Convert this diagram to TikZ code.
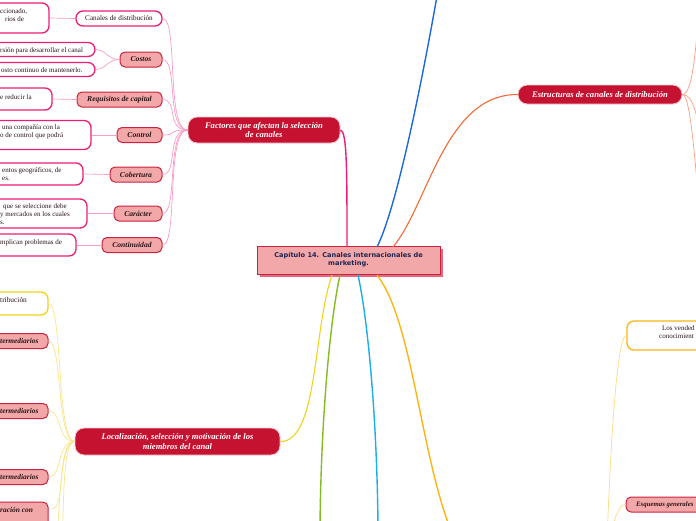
\documentclass[tikz,border=0pt]{standalone}
\usepackage{fontspec}
\setmainfont{Liberation Serif}
\newfontfamily\centralfont{DejaVu Sans}
\definecolor{crimson}{HTML}{C41230}
\definecolor{pinkfill}{HTML}{F2A8A8}
\definecolor{pinkborder}{HTML}{C9213F}
\definecolor{magentab}{HTML}{EE1D74}
\definecolor{pinkmain}{HTML}{EC1C79}
\definecolor{pinklight}{HTML}{F99CC5}
\definecolor{yellowmain}{HTML}{F2D31B}
\definecolor{yellowlight}{HTML}{F8E58A}
\definecolor{ambermain}{HTML}{FDB515}
\definecolor{amberlight}{HTML}{FDD98A}
\definecolor{orangemain}{HTML}{F26A36}
\definecolor{orangelight}{HTML}{F5A07E}
\definecolor{bluemain}{HTML}{1B69DA}
\definecolor{greenmain}{HTML}{85BB21}
\definecolor{cyanmain}{HTML}{1CAEEB}
\definecolor{navytext}{HTML}{1B2452}
\definecolor{shadowpink}{HTML}{E06A7E}
\definecolor{glow}{HTML}{F7C6CE}
\definecolor{darktext}{HTML}{2A1416}
\tikzset{
  mainbox/.style={rectangle, rounded corners=9pt, fill=crimson, draw=glow, line width=0.9pt,
    text=white, font=\fontsize{8.6}{9.4}\selectfont\bfseries\itshape, align=center, inner sep=0pt},
  subbox/.style={rectangle, rounded corners=5pt, fill=pinkfill, draw=pinkborder, line width=1pt,
    text=darktext, font=\fontsize{7.6}{8}\selectfont\bfseries\itshape, inner sep=0pt},
  whitebox/.style={rectangle, rounded corners=7pt, fill=white, line width=1.3pt, inner sep=0pt,
    font=\fontsize{7.2}{8}\selectfont, text=darktext},
  frag/.style={anchor=base west, inner sep=0pt, font=\fontsize{7}{8}\selectfont, text=darktext, align=left},
  fragb/.style={anchor=base west, inner sep=0pt, font=\fontsize{7.4}{8}\selectfont\bfseries\itshape, text=darktext},
  branch/.style={line width=1.4pt},
  twig/.style={line width=0.7pt},
}
\begin{document}
\begin{tikzpicture}[x=1pt,y=-1pt]
\useasboundingbox (0,0) rectangle (696,520);
\clip (0,0) rectangle (696,520);

% ---------- branch anchor coordinates ----------
\coordinate (cpk) at (347,247);
\coordinate (cbl) at (377,247);
\coordinate (cor) at (393,247);
\coordinate (cye) at (332,275);
\coordinate (cgr) at (340,275);
\coordinate (ccy) at (358,275);
\coordinate (cam) at (377,275);
\coordinate (blueend) at (437,-4);
\coordinate (greenend) at (320,526);
\coordinate (cyanend) at (378,526);
\coordinate (amberend) at (450,528);

% ---------- nodes ----------
\fill[shadowpink] (260,249) rectangle (443,277);
\node[rectangle, fill=pinkfill, draw=pinkborder, line width=1pt, minimum width=183pt, minimum height=28pt,
  inner sep=0pt, align=center, text=navytext, font=\centralfont\fontsize{6.6}{8}\selectfont\bfseries]
  (central) at (348.5,260) {Capítulo 14. Canales internacionales de\\marketing.};

\node[mainbox, minimum width=152pt, minimum height=26pt] (fac) at (264,130) {Factores que afectan la selección\\de canales};
\node[mainbox, minimum width=164pt, minimum height=19pt] (est) at (600,94.5) {Estructuras de canales de distribución};
\node[mainbox, minimum width=205pt, minimum height=27pt] (loc) at (177.5,441.5) {Localización, selección y motivación de los\\miembros del canal};

% Factores children
\node[whitebox, draw=magentab, minimum width=86pt, minimum height=15pt] (cdd) at (119,18.5) {Canales de distribución};
\node[subbox, minimum width=42pt, minimum height=15pt] (cos) at (141,59.5) {Costos};
\node[subbox, minimum width=85pt, minimum height=15pt] (req) at (119.5,99.5) {Requisitos de capital};
\node[subbox, minimum width=45pt, minimum height=15pt] (con) at (139.5,135) {Control};
\node[subbox, minimum width=52pt, minimum height=15pt] (cob) at (136,174.5) {Cobertura};
\node[subbox, minimum width=48pt, minimum height=15pt] (car) at (138,213.5) {Carácter};
\node[subbox, minimum width=60pt, minimum height=15pt] (cnt) at (132,245) {Continuidad};

% grandchildren (cut at left edge)
\node[whitebox, draw=magentab, minimum width=110pt, minimum height=30pt] (g1) at (-6,18) {};
\node[whitebox, draw=magentab, minimum width=140pt, minimum height=14pt] (g2) at (25,49.5) {};
\node[whitebox, draw=magentab, minimum width=140pt, minimum height=14pt] (g3) at (25,69.5) {};
\node[whitebox, draw=magentab, minimum width=110pt, minimum height=22pt] (g4) at (-3,99) {};
\node[whitebox, draw=magentab, minimum width=150pt, minimum height=29pt] (g5) at (16,135) {};
\node[whitebox, draw=magentab, minimum width=150pt, minimum height=22pt] (g6) at (8,174) {};
\node[whitebox, draw=magentab, minimum width=150pt, minimum height=29pt] (g7) at (12,213.5) {};
\node[whitebox, draw=magentab, minimum width=150pt, minimum height=22pt] (g8) at (1,245) {};

\node[frag] (t1) at (0,13) {ccionado,};
\node[frag] (t1b) at (5,21) {rios de};
\node[frag] (t2) at (0,52) {rsión para desarrollar el canal};
\node[frag] (t3) at (1,72) {osto continuo de mantenerlo.};
\node[frag] (t4) at (0,99.5) {e reducir la};
\node[frag] (t5) at (2,129.5) {una compañía con la};
\node[frag] (t5b) at (0,137.5) {o de control que podrá};
\node[frag] (t6) at (2,172) {entos geográficos, de};
\node[frag] (t6b) at (2,180.5) {es.};
\node[frag] (t7) at (3,208) {que se seleccione debe};
\node[frag] (t7b) at (0,216) {y mercados en los cuales};
\node[frag] (t7c) at (0,224.5) {s.};
\node[frag] (t8) at (0,244.5) {mplican problemas de};

% Localizacion children
\node[whitebox, draw=yellowmain, minimum width=100pt, minimum height=23pt] (y1) at (-2,303.5) {};
\node[subbox, minimum width=100pt, minimum height=15pt] (y2) at (-2,341) {};
\node[subbox, minimum width=100pt, minimum height=15pt] (y3) at (-2,411) {};
\node[subbox, minimum width=100pt, minimum height=15pt] (y4) at (-2,477) {};
\node[subbox, minimum width=100pt, minimum height=30pt] (y5) at (-2,517) {};
\node[frag, font=\fontsize{7.4}{8}\selectfont] (ty1) at (0,302) {tribución};
\node[fragb] (ty2) at (0,343.5) {termediarios};
\node[fragb] (ty3) at (0,413.5) {termediarios};
\node[fragb] (ty4) at (0,479.5) {termediarios};
\node[fragb] (ty5) at (0,512) {ración con};

% right-bottom amber children
\node[whitebox, draw=ambermain, minimum width=120pt, minimum height=29pt] (a1) at (687,335.5) {};
\node[subbox, minimum width=120pt, minimum height=15pt] (a2) at (686,504.5) {};
\node[frag] (ta1) at (662,330) {Los vended};
\node[frag] (ta1b) at (659,338) {conocimient};
\node[fragb, font=\fontsize{6.8}{8}\selectfont\bfseries\itshape] (ta2) at (636,506.5) {Esquemas generales};

% off-frame coordinates
\coordinate (ambpar) at (606,570);
\coordinate (yoff1) at (57,540);
\coordinate (yoff2) at (62,545);
\coordinate (eoff1) at (700,-10);
\coordinate (eoff2) at (702,140);
\coordinate (eoff3) at (702,230);

% ---------- connectors ----------
\draw[branch, pinkmain] (cpk) .. controls (347,170) and (347,131) .. (fac.east);
\draw[branch, bluemain] (cbl) .. controls (398,205) and (424,70) .. (blueend);
\draw[branch, orangemain, line width=1.1pt] (cor) .. controls (428,205) and (445,94) .. (est.west);
\draw[branch, yellowmain, line width=1.1pt] (cye) .. controls (313,330) and (318,442) .. (loc.east);
\draw[branch, greenmain] (cgr) .. controls (330,320) and (321,420) .. (greenend);
\draw[branch, cyanmain] (ccy) .. controls (368,320) and (377,420) .. (cyanend);
\draw[branch, ambermain] (cam) .. controls (412,320) and (420,450) .. (amberend);

\foreach \n in {cdd,cos,req,con,cob,car,cnt}
  \draw[twig, pinklight] (fac.west) .. controls +(-22,0) and +(16,0) .. (\n.east);
\draw[twig, pinklight] (cdd.west) -- (g1.east);
\draw[twig, pinklight] (cos.west) .. controls +(-12,0) and +(10,0) .. (g2.east);
\draw[twig, pinklight] (cos.west) .. controls +(-12,0) and +(10,0) .. (g3.east);
\draw[twig, pinklight] (req.west) -- (g4.east);
\draw[twig, pinklight] (con.west) -- (g5.east);
\draw[twig, pinklight] (cob.west) -- (g6.east);
\draw[twig, pinklight] (car.west) -- (g7.east);
\draw[twig, pinklight] (cnt.west) -- (g8.east);

\foreach \n in {y1,y2,y3,y4}
  \draw[twig, yellowlight] (loc.west) .. controls +(-18,0) and +(14,0) .. (\n.east);
\draw[twig, yellowlight] (loc.west) .. controls +(-18,0) and +(14,0) .. (52,509);
\draw[twig, yellowlight] (loc.west) .. controls +(-14,0) and +(3,-40) .. (yoff1);
\draw[twig, yellowlight] (loc.west) .. controls +(-12,0) and +(2,-40) .. (yoff2);

\draw[twig, orangelight] (est.east) .. controls +(12,0) and +(-3,40) .. (eoff1);
\draw[twig, orangelight] (est.east) .. controls +(12,0) and +(-5,-20) .. (eoff2);
\draw[twig, orangelight] (est.east) .. controls +(10,0) and +(-5,-30) .. (eoff3);

\draw[twig, amberlight] (a1.west) .. controls +(-12,0) and +(2,-60) .. (ambpar);
\draw[twig, amberlight] (a2.west) .. controls +(-12,0) and +(2,-20) .. (ambpar);
\end{tikzpicture}
\end{document}
